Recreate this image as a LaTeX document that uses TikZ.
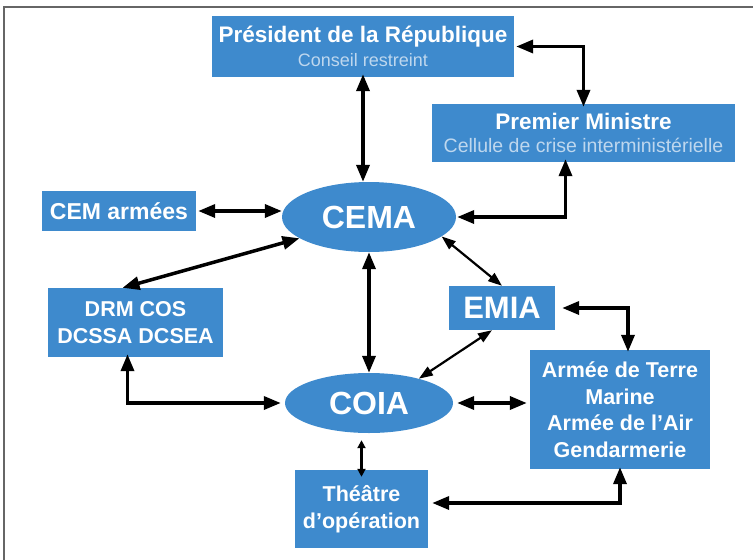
\documentclass[tikz,border=0pt]{standalone}
\usepackage{fontspec}
\setmainfont{Liberation Sans}
\usepackage{xcolor}
\usetikzlibrary{arrows.meta,shapes.geometric}
\definecolor{boxblue}{RGB}{62,138,205}
\definecolor{subtext}{RGB}{190,215,238}
\definecolor{framegray}{RGB}{102,102,102}
\tikzset{
  bluebox/.style={fill=boxblue, text=white, inner sep=0pt, align=center, font=\bfseries\fontsize{21.5}{26.5}\selectfont},
  blueoval/.style={ellipse, fill=boxblue, text=white, inner sep=0pt, font=\bfseries\fontsize{32}{36}\selectfont},
  link/.style={line width=3.5pt, {Triangle[length=17pt,width=13pt]}-{Triangle[length=17pt,width=13pt]}},
  thinlink/.style={line width=2.2pt, {Triangle[length=14pt,width=10pt]}-{Triangle[length=14pt,width=10pt]}}
}
\begin{document}
\begin{tikzpicture}[x=1pt,y=-1pt]
\useasboundingbox (0,0) rectangle (753,560);
\draw [framegray, line width=2pt] (4,560) -- (4,7) -- (753,7);
\node [bluebox, minimum width=302pt, minimum height=61pt] (pres) at (363,46.5)
  {{\fontsize{22.5}{26}\selectfont Président de la République}\\[-3pt]{\mdseries\color{subtext}\fontsize{18}{20}\selectfont Conseil restreint}};
\node [bluebox, minimum width=303pt, minimum height=58pt] (pm) at (583.5,133)
  {{\fontsize{22.5}{26}\selectfont Premier Ministre}\\[-4pt]{\mdseries\color{subtext}\fontsize{19.5}{21}\selectfont Cellule de crise interministérielle}};
\node [blueoval, minimum width=174pt, minimum height=70pt] (cema) at (369,217) {CEMA};
\node [bluebox, minimum width=154pt, minimum height=40pt, font=\bfseries\fontsize{23}{26}\selectfont] (cem) at (119,211) {CEM armées};
\node [bluebox, minimum width=175pt, minimum height=69pt] (drm) at (135.5,322.5) {DRM COS\\DCSSA DCSEA};
\node [bluebox, minimum width=106pt, minimum height=44pt, font=\bfseries\fontsize{31}{34}\selectfont] (emia) at (502,308) {EMIA};
\node [blueoval, minimum width=168pt, minimum height=60pt] (coia) at (369,403) {COIA};
\node [bluebox, minimum width=180pt, minimum height=119pt] (arm) at (620,409.5)
  {Armée de Terre\\Marine\\Armée de l'Air\\Gendarmerie};
\node [bluebox, minimum width=133pt, minimum height=78pt] (theatre) at (361.5,509)
  {Théâtre\\d'opération};
\draw [link] ([xshift=2pt]pres.east) -| ([yshift=-3pt]pm.north);
\draw [link] ([yshift=3pt]pres.south) -- (pres.south |- cema.north);
\draw [link] ([xshift=-18pt,yshift=3pt]pm.south) |- ([xshift=1pt]cema.east);
\draw [link] ([xshift=2pt]cem.east) -- (cem.east -| cema.west);
\draw [link] ([xshift=-13pt]drm.north) -- (cema.197);
\draw [link] (cema.south) -- (coia.north);
\draw [thinlink] (cema.-15) -- (emia.north);
\draw [thinlink] ([xshift=-10pt]emia.south) -- (coia.26);
\draw [link] ([xshift=7pt]emia.east) -| ([xshift=8pt,yshift=-2pt]arm.north);
\draw [link] ([xshift=-8pt,yshift=3pt]drm.south) |- ([xshift=-4pt]coia.west);
\draw [link] ([xshift=4pt]coia.east) -- ([xshift=-3pt]coia.east -| arm.west);
\draw [line width=2.5pt, {Triangle[length=8pt,width=8pt]}-{Triangle[length=8pt,width=8pt]}]
  ([yshift=-7pt]theatre.north) -- ([yshift=-7pt]theatre.north |- coia.south);
\draw [link] ([xshift=4pt,yshift=6pt]theatre.east) -| ([yshift=2pt]arm.south);
\end{tikzpicture}
\end{document}
